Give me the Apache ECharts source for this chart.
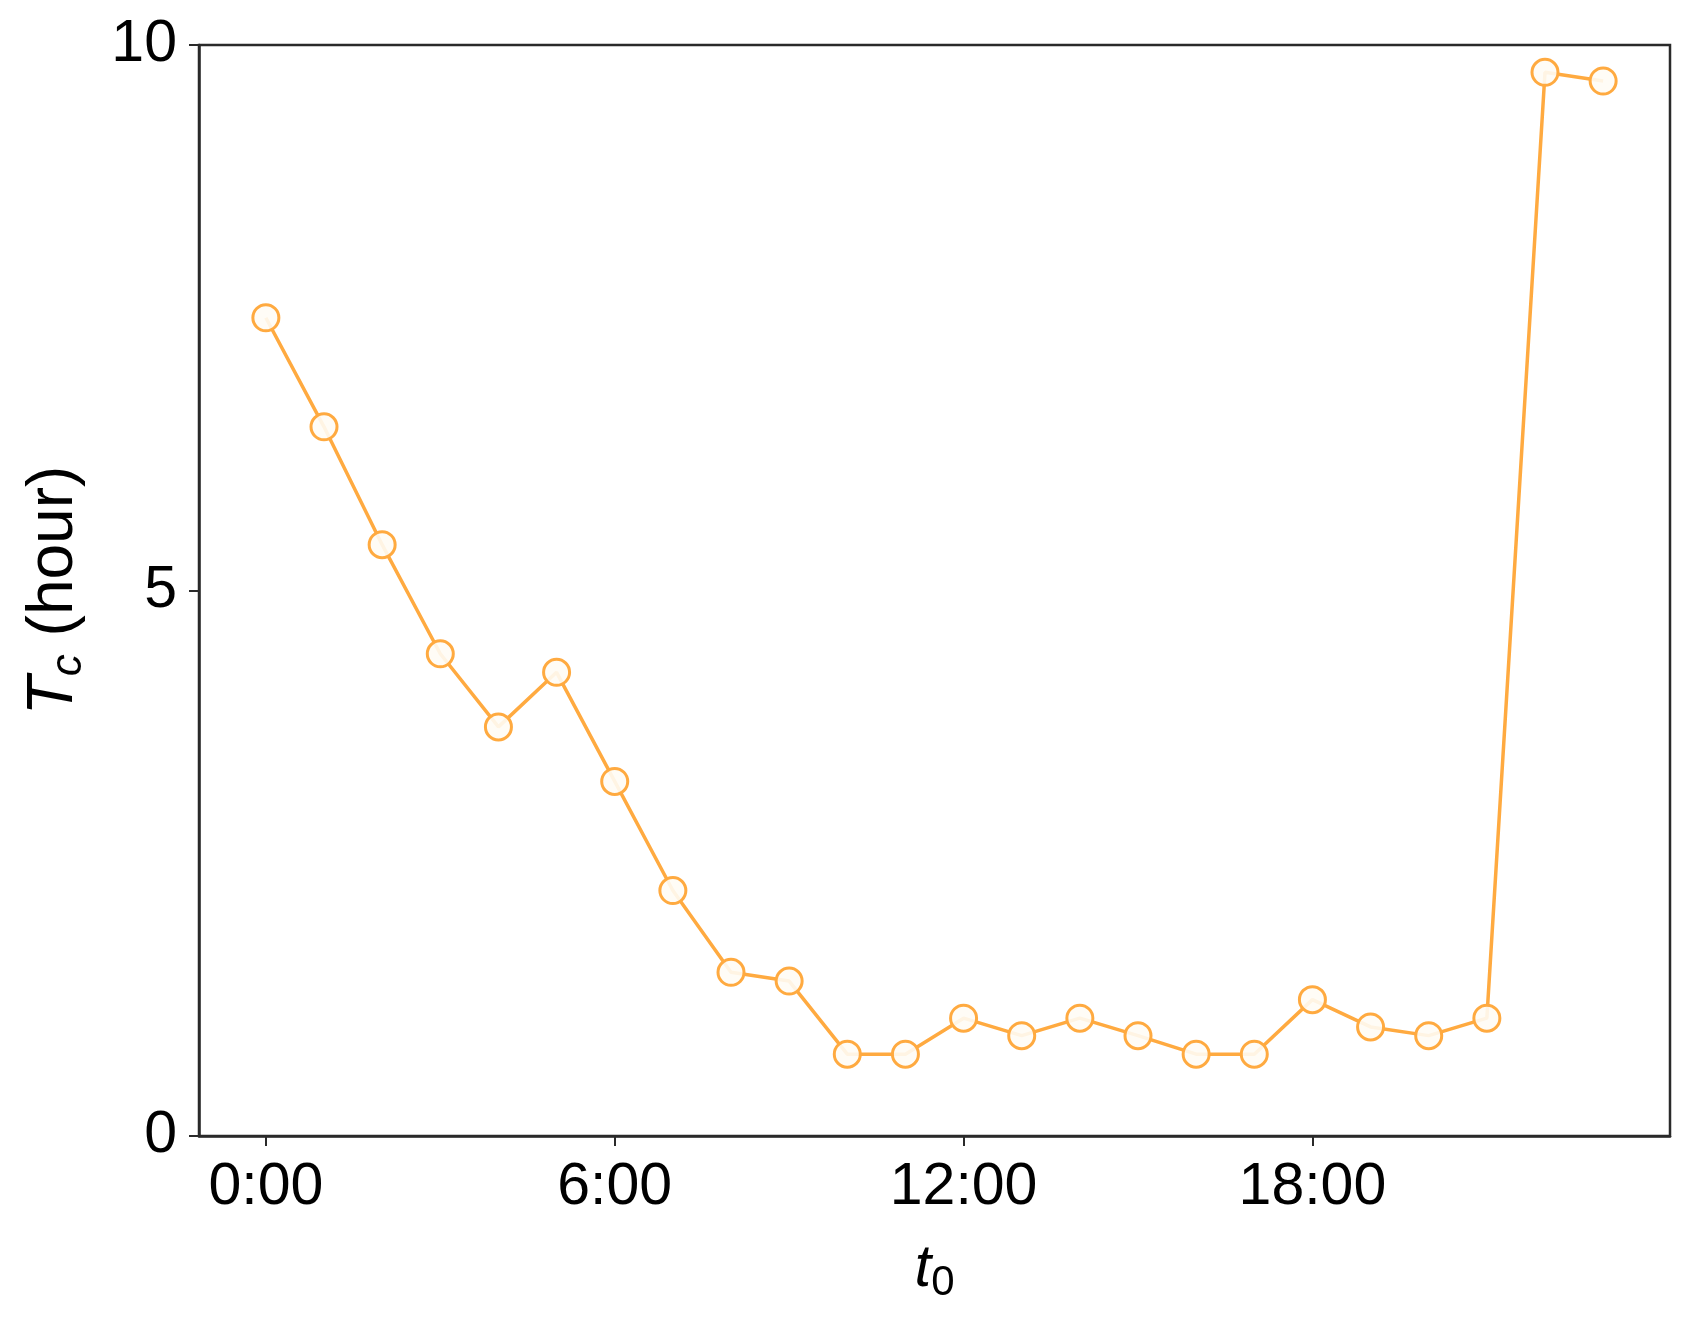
<!DOCTYPE html>
<html>
<head>
<meta charset="utf-8">
<script src="https://cdn.jsdelivr.net/npm/echarts@6/dist/echarts.min.js"></script>
<style>
html,body{margin:0;padding:0;background:#fff;}
#chart{width:1689px;height:1318px;}
</style>
</head>
<body>
<div id="chart"></div>
<script>
// hours of day (t0)
const hours = [0,1,2,3,4,5,6,7,8,9,10,11,12,13,14,15,16,17,18,19,20,21,22,23];
// Tc in hours
const tcValues = [7.5,6.5,5.42,4.42,3.75,4.25,3.25,2.25,1.5,1.42,0.75,0.75,1.08,0.92,1.08,0.92,0.75,0.75,1.25,1.0,0.92,1.08,9.75,9.67];
const xTicks = [0,6,12,18];

const font = '"Liberation Sans", Arial, sans-serif';
const orange = '#FFAA40';

const chart = echarts.init(document.getElementById('chart'));
chart.setOption({
  animation: false,
  backgroundColor: '#fff',
  grid: {
    left: 199, right: 19, top: 45, bottom: 182,
    show: true, borderColor: '#2a2a2a', borderWidth: 2.5, backgroundColor: 'transparent'
  },
  xAxis: {
    type: 'value',
    min: -1.15, max: 24.15,
    name: '{i|t}{s|0}',
    nameLocation: 'middle',
    nameGap: 98,
    nameTextStyle: {
      rich: {
        i: {fontFamily: font, fontStyle: 'italic', fontSize: 60, color: '#000'},
        s: {fontFamily: font, fontSize: 42, color: '#000', padding: [28,0,0,0]}
      }
    },
    axisLine: {show: true, onZero: false, lineStyle: {color: '#2a2a2a', width: 2.5}},
    axisTick: {show: true, inside: false, customValues: xTicks, length: 10, lineStyle: {color: '#2a2a2a', width: 2}},
    axisLabel: {
      customValues: xTicks,
      formatter: v => v + ':00',
      fontFamily: font, fontSize: 59, color: '#000', margin: 22
    },
    splitLine: {show: false}
  },
  yAxis: {
    type: 'value',
    min: 0, max: 10, interval: 5,
    name: '{i|T}{s|c}{n| (hour)}',
    nameLocation: 'middle',
    nameGap: 108,
    nameRotate: 90,
    nameTextStyle: {
      rich: {
        i: {fontFamily: font, fontStyle: 'italic', fontSize: 64, color: '#000'},
        s: {fontFamily: font, fontStyle: 'italic', fontSize: 44, color: '#000', padding: [30,0,0,0]},
        n: {fontFamily: font, fontSize: 64, color: '#000'}
      }
    },
    axisLine: {show: true, onZero: false, lineStyle: {color: '#2a2a2a', width: 2.5}},
    axisTick: {show: true, inside: false, length: 10, lineStyle: {color: '#2a2a2a', width: 2}},
    axisLabel: {fontFamily: font, fontSize: 59, color: '#000', margin: 22},
    splitLine: {show: false}
  },
  series: [{
    type: 'line',
    data: hours.map((h, i) => [h, tcValues[i]]),
    symbol: 'circle',
    symbolSize: 26,
    lineStyle: {color: orange, width: 3.5},
    itemStyle: {color: 'rgba(255,252,245,0.9)', borderColor: orange, borderWidth: 3}
  }]
});
</script>
</body>
</html>
